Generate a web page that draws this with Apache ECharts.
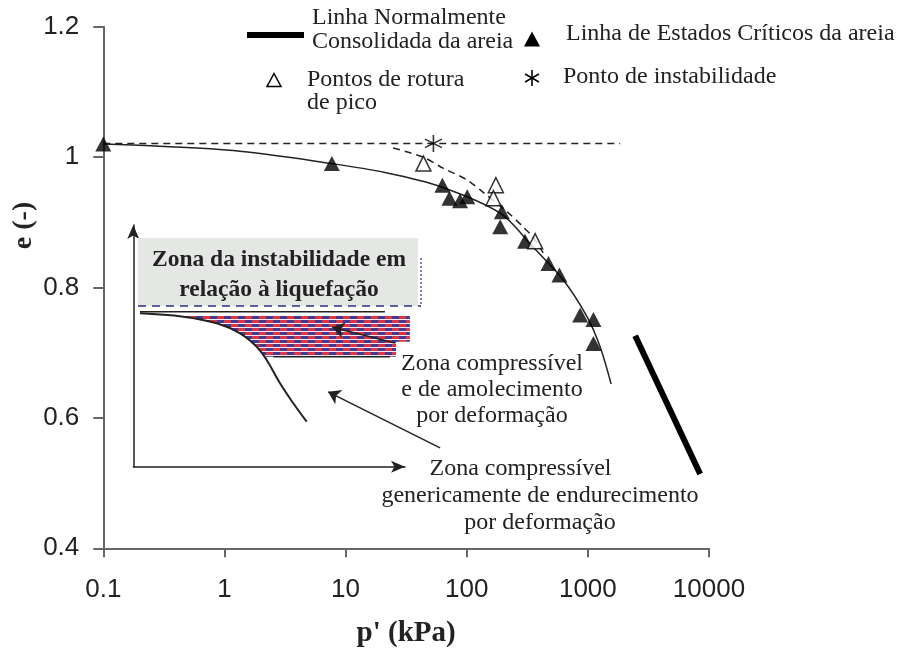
<!DOCTYPE html>
<html><head><meta charset="utf-8">
<script src="https://cdn.jsdelivr.net/npm/echarts@6/dist/echarts.min.js"></script>
<style>html,body{margin:0;padding:0;background:#fff}#c{width:899px;height:654px}</style>
</head><body><div id="c"></div>
<script>
// ---- tick labels ----
const xTickValues = [0.1, 1, 10, 100, 1000, 10000];
const xTickLabels = ['0.1', '1', '10', '100', '1000', '10000'];

// ---- main chart data: [p' (kPa), e] ----
const criticalStatePoints = [[0.1,1.020],[7.7,0.990],[63,0.957],[72,0.937],[88,0.933],[101,0.939],[195,0.916],[189,0.893],[303,0.871],[473,0.837],[583,0.819],[864,0.758],[1112,0.751],[1112,0.714]];
const peakFailurePoints = [[43.9,0.990],[174,0.957],[166,0.937],[367,0.871]];
const instabilityPoint = [[53.1,1.021]];
const cslCurve = [[0.1,1.020],[1.18,1.010],[7.7,0.990],[21.6,0.976],[60.3,0.955],[189,0.914],[353,0.862],[625,0.812],[986,0.755],[1262,0.709],[1556,0.652]];
const instabilityLine = [[0.1,1.021],[1850,1.021]];
const peakCurve = [[24.7,1.014],[43.6,1.000],[63.8,0.983],[100.7,0.965],[136.5,0.946],[216,0.916],[292,0.893],[353,0.877],[428,0.853]];
const nclLine = [[2459,0.726],[8453,0.514]];
const arrowSoftening = [[25.6,0.715],[7.74,0.739]];
const arrowHardening = [[60.3,0.554],[7.17,0.640]];

// ---- inset schematic (arbitrary units 0-100) ----
const insetCurve = [[2.47,63.47],[18.40,62.06],[30.70,59.33],[39.27,55.19],[45.42,49.65],[49.10,44.15],[54.0,34.51],[58.89,26.23],[63.82,18.62]];
const insetTopLine = [[2.47,64.13],[92.63,64.13]];
const insetBottomLine = [[51.53,45.51],[94.48,45.51]];
const softeningZone = [[15,62.47],[101.8,62.47],[101.8,51.72],[96.69,51.72],[96.69,45.51],[48.19,45.51],[45.42,49.65],[39.27,55.19],[30.70,59.33],[18.40,62.06]];

const SERIF = '"Liberation Serif", "Times New Roman", serif';
const SANS = '"Liberation Sans", Arial, sans-serif';
const TXT = '#222';

function makeHatch() {
  const c = document.createElement('canvas');
  c.width = 14; c.height = 8;
  const g = c.getContext('2d');
  g.fillStyle = '#f4e8f0'; g.fillRect(0, 0, 14, 8);
  g.fillStyle = '#e5323e'; g.fillRect(0, 0, 7, 3);
  g.fillStyle = '#3a3c96'; g.fillRect(7, 0, 7, 3);
  g.fillStyle = '#3a3c96'; g.fillRect(0, 4, 7, 3);
  g.fillStyle = '#e5323e'; g.fillRect(7, 4, 7, 3);
  return c;
}
const hatch = makeHatch();

const STAR = 'path://M0,-10L0,10M-8.66,-5L8.66,5M-8.66,5L8.66,-5';
const legendFont = '24px ' + SERIF;

const chart = echarts.init(document.getElementById('c'), null, {renderer: 'canvas'});
chart.setOption({
  animation: false,
  backgroundColor: '#fff',
  textStyle: {fontFamily: SANS},
  grid: [
    {left: 103.3, top: 26.7, right: 190, bottom: 105.7},
    {left: 133.3, top: 225, width: 271.7, height: 241.7}
  ],
  xAxis: [{
    type: 'log', logBase: 10, min: 0.1, max: 10000, gridIndex: 0,
    axisLine: {lineStyle: {color: '#666', width: 2}},
    axisTick: {show: true, length: 9, lineStyle: {color: '#666', width: 2}},
    minorTick: {show: false},
    splitLine: {show: false},
    axisLabel: {
      fontFamily: SANS, fontSize: 26, color: TXT, margin: 29,
      formatter: function (v) {
        let best = 0;
        xTickValues.forEach(function (t, i) { if (Math.abs(Math.log10(t) - Math.log10(v)) < Math.abs(Math.log10(xTickValues[best]) - Math.log10(v))) best = i; });
        return xTickLabels[best];
      }
    },
    name: "p' (kPa)", nameLocation: 'middle', nameGap: 71,
    nameTextStyle: {fontFamily: SERIF, fontWeight: 'bold', fontSize: 29, color: TXT}
  }, {
    type: 'value', min: 0, max: 100, gridIndex: 1,
    axisLine: {show: true, symbol: ['none', 'arrow'], symbolSize: [9, 14], lineStyle: {color: '#222', width: 1.5}},
    axisTick: {show: false}, axisLabel: {show: false}, splitLine: {show: false}
  }],
  yAxis: [{
    type: 'value', min: 0.4, max: 1.2, interval: 0.2, gridIndex: 0,
    axisLine: {show: true, lineStyle: {color: '#666', width: 2}},
    axisTick: {show: true, length: 10, lineStyle: {color: '#666', width: 2}},
    splitLine: {show: false},
    axisLabel: {fontFamily: SANS, fontSize: 26, color: TXT, margin: 24}
  }, {
    type: 'value', min: 0, max: 100, gridIndex: 1,
    axisLine: {show: true, symbol: ['none', 'arrow'], symbolSize: [9, 14], lineStyle: {color: '#222', width: 1.5}},
    axisTick: {show: false}, axisLabel: {show: false}, splitLine: {show: false}
  }],
  series: [
    {name: 'Linha de instabilidade', type: 'line', data: instabilityLine, xAxisIndex: 0, yAxisIndex: 0,
     symbol: 'none', lineStyle: {color: '#222', width: 1.5, type: [7, 5]}, z: 2, silent: true},
    {name: 'Curva de pico', type: 'line', data: peakCurve, smooth: 0.3, xAxisIndex: 0, yAxisIndex: 0,
     symbol: 'none', lineStyle: {color: '#222', width: 1.5, type: [7, 5]}, z: 2, silent: true},
    {name: 'Linha de Estados Críticos (curva)', type: 'line', data: cslCurve, smooth: 0.3, xAxisIndex: 0, yAxisIndex: 0,
     symbol: 'none', lineStyle: {color: '#222', width: 1.5}, z: 3, silent: true},
    {name: 'Linha Normalmente Consolidada da areia', type: 'line', data: nclLine, xAxisIndex: 0, yAxisIndex: 0, color: '#000',
     symbol: 'none', lineStyle: {color: '#000', width: 6}, z: 3, silent: true,
     markLine: {
       silent: true, symbol: ['none', 'arrow'], symbolSize: 12, animation: false,
       label: {show: false}, emphasis: {disabled: true},
       lineStyle: {color: '#222', width: 1.5, type: 'solid'},
       data: [
         [{coord: arrowSoftening[0]}, {coord: arrowSoftening[1]}],
         [{coord: arrowHardening[0]}, {coord: arrowHardening[1]}]
       ]
     }},
    {name: 'Linha de Estados Críticos da areia', type: 'scatter', data: criticalStatePoints, xAxisIndex: 0, yAxisIndex: 0,
     symbol: 'triangle', symbolSize: [16, 15], itemStyle: {color: '#000'}, z: 6, silent: true},
    {name: 'Pontos de rotura de pico', type: 'scatter', data: peakFailurePoints, xAxisIndex: 0, yAxisIndex: 0,
     symbol: 'triangle', symbolSize: [15, 15], itemStyle: {color: '#fff', borderColor: '#000', borderWidth: 1.5}, z: 7, silent: true},
    {name: 'Ponto de instabilidade', type: 'scatter', data: instabilityPoint, xAxisIndex: 0, yAxisIndex: 0,
     symbol: STAR, symbolSize: [17, 17], itemStyle: {color: 'rgba(0,0,0,0)', borderColor: '#000', borderWidth: 1.6}, z: 7, silent: true},
    // inset
    {name: 'softeningZone', type: 'custom', xAxisIndex: 1, yAxisIndex: 1, data: [[0, 0]], silent: true, z: 2,
     renderItem: function (params, api) {
       return {type: 'polygon', shape: {points: softeningZone.map(function (p) { return api.coord(p); })},
               style: {fill: {image: hatch, repeat: 'repeat'}, stroke: null}};
     }},
    {name: 'insetCurve', type: 'line', data: insetCurve, smooth: 0.4, xAxisIndex: 1, yAxisIndex: 1,
     symbol: 'none', lineStyle: {color: '#222', width: 2}, z: 4, silent: true, clip: false},
    {name: 'insetTopLine', type: 'line', data: insetTopLine, xAxisIndex: 1, yAxisIndex: 1,
     symbol: 'none', lineStyle: {color: '#222', width: 1.5}, z: 4, silent: true, clip: false},
    {name: 'insetBottomLine', type: 'line', data: insetBottomLine, xAxisIndex: 1, yAxisIndex: 1,
     symbol: 'none', lineStyle: {color: '#222', width: 1.5}, z: 4, silent: true, clip: false}
  ],
  graphic: [
    // legend (key)
    {type: 'line', shape: {x1: 247, y1: 35, x2: 304, y2: 35}, style: {stroke: '#000', lineWidth: 6}, silent: true},
    {type: 'text', x: 312, y: 30, silent: true,
     style: {text: 'Linha Normalmente\nConsolidada da areia', font: legendFont, fill: TXT, align: 'left', verticalAlign: 'middle', lineHeight: 24}},
    {type: 'polygon', shape: {points: [[532, 31.5], [540, 46.5], [524, 46.5]]}, style: {fill: '#000'}, silent: true},
    {type: 'text', x: 566, y: 34, silent: true,
     style: {text: 'Linha de Estados Críticos da areia', font: legendFont, fill: TXT, align: 'left', verticalAlign: 'middle'}},
    {type: 'polygon', shape: {points: [[274, 73.5], [281, 86.5], [267, 86.5]]}, style: {fill: '#fff', stroke: '#000', lineWidth: 1.5}, silent: true},
    {type: 'text', x: 307, y: 68.5, silent: true,
     style: {text: 'Pontos de rotura\nde pico', font: legendFont, fill: TXT, align: 'left', verticalAlign: 'top', lineHeight: 23}},
    {type: 'group', x: 532, y: 78, silent: true, children: [
      {type: 'line', shape: {x1: 0, y1: -8, x2: 0, y2: 8}, style: {stroke: '#000', lineWidth: 1.6}},
      {type: 'line', shape: {x1: -7, y1: -4, x2: 7, y2: 4}, style: {stroke: '#000', lineWidth: 1.6}},
      {type: 'line', shape: {x1: -7, y1: 4, x2: 7, y2: -4}, style: {stroke: '#000', lineWidth: 1.6}}
    ]},
    {type: 'text', x: 563, y: 77, silent: true,
     style: {text: 'Ponto de instabilidade', font: legendFont, fill: TXT, align: 'left', verticalAlign: 'middle'}},
    // axis name (y)
    {type: 'text', x: 24, y: 225.5, rotation: Math.PI / 2, silent: true,
     style: {text: 'e (-)', font: 'bold 28px ' + SERIF, fill: TXT, align: 'center', verticalAlign: 'middle'}},
    // inset annotation box
    {type: 'rect', shape: {x: 138, y: 238, width: 280, height: 68}, style: {fill: '#e5e7e5'}, silent: true, z: 1},
    {type: 'line', shape: {x1: 138, y1: 306, x2: 421, y2: 306}, style: {stroke: '#2a2f86', lineWidth: 1.5, lineDash: [8, 6]}, silent: true, z: 2},
    {type: 'line', shape: {x1: 421, y1: 258, x2: 421, y2: 306}, style: {stroke: '#2a2f86', lineWidth: 1.2, lineDash: [2, 2]}, silent: true, z: 2},
    {type: 'text', x: 279, y: 275, silent: true, z: 3,
     style: {text: 'Zona da instabilidade em\nrelação à liquefação', font: 'bold 23.5px ' + SERIF, fill: TXT, align: 'center', verticalAlign: 'middle', lineHeight: 30}},
    {type: 'text', x: 492, y: 389.5, silent: true, z: 3,
     style: {text: 'Zona compressível\ne de amolecimento\npor deformação', font: '24px ' + SERIF, fill: TXT, align: 'center', verticalAlign: 'middle', lineHeight: 26}},
    {type: 'text', x: 520.5, y: 468.3, silent: true, z: 3,
     style: {text: 'Zona compressível', font: '24px ' + SERIF, fill: TXT, align: 'center', verticalAlign: 'middle'}},
    {type: 'text', x: 540, y: 509, silent: true, z: 3,
     style: {text: 'genericamente de endurecimento\npor deformação', font: '24px ' + SERIF, fill: TXT, align: 'center', verticalAlign: 'middle', lineHeight: 26.6}}
  ]
});
</script></body></html>
